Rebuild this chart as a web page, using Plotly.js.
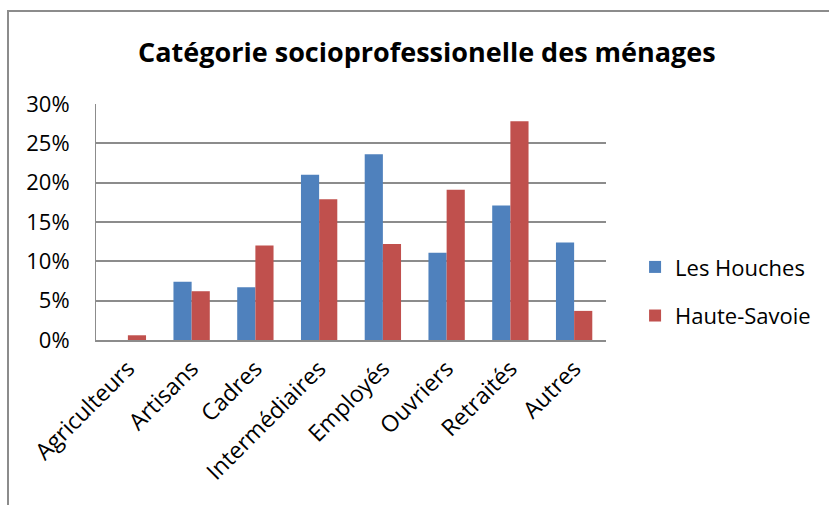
<!DOCTYPE html>
<html>
<head>
<meta charset="utf-8">
<script src="https://cdn.plot.ly/plotly-3.0.1.min.js"></script>
<style>
html,body{margin:0;padding:0;background:#fff;overflow:hidden;}
#frame{position:absolute;left:7px;top:10px;width:900px;height:600px;border:2px solid #8c8c8c;box-sizing:border-box;}
#chart{position:absolute;left:0;top:0;width:829px;height:505px;}
</style>
</head>
<body>
<div id="frame"></div>
<div id="chart"></div>
<script>
const categories = ["Agriculteurs","Artisans","Cadres","Intermédiaires","Employés","Ouvriers","Retraités","Autres"];
const lesHouches = [0.000, 0.074, 0.067, 0.210, 0.236, 0.111, 0.171, 0.124];
const hauteSavoie = [0.006, 0.062, 0.120, 0.179, 0.122, 0.191, 0.278, 0.037];
const seriesNames = ["Les Houches","Haute-Savoie"];
const yTickVals = [0,0.05,0.10,0.15,0.20,0.25,0.30];
const yTickText = ["0%","5%","10%","15%","20%","25%","30%"];

const font = "Open Sans, Noto Sans, sans-serif";
const traces = [
  {type:"bar", name:seriesNames[0], x:categories, y:lesHouches, marker:{color:"#4F81BD"}, legendgroup:"a", hoverinfo:"none"},
  {type:"bar", name:seriesNames[1], x:categories, y:hauteSavoie, marker:{color:"#C0504D"}, legendgroup:"b", hoverinfo:"none"}
];
const layout = {
  width:829, height:505,
  margin:{l:96, r:223, t:104, b:165, pad:0},
  paper_bgcolor:"rgba(0,0,0,0)", plot_bgcolor:"rgba(0,0,0,0)",
  font:{family:font, color:"#000", size:21},
  title:{text:"<b>Catégorie socioprofessionelle des ménages</b>", x:0.515, xanchor:"center", y:0.895, yanchor:"middle", font:{size:27, family:font, color:"#000"}},
  barmode:"group", bargap:0.43, bargroupgap:0,
  xaxis:{tickangle:-45, showgrid:false, ticks:"", showline:true, linecolor:"#8c8c8c", linewidth:2, tickfont:{size:23}, ticklabelstandoff:4},
  yaxis:{range:[0,0.30], tickvals:yTickVals, ticktext:yTickText, showgrid:true, gridcolor:"#8c8c8c", gridwidth:2, zeroline:false, showline:true, linecolor:"#8c8c8c", linewidth:1, ticks:"", tickfont:{size:22}, ticklabelstandoff:21},
  showlegend:true,
  legend:{x:1.057, xanchor:"left", y:0.205, yanchor:"middle", font:{size:22}, traceorder:"grouped", tracegroupgap:17, itemwidth:30, bgcolor:"rgba(0,0,0,0)"}
};
Plotly.newPlot("chart", traces, layout, {staticPlot:true});
</script>
</body>
</html>
